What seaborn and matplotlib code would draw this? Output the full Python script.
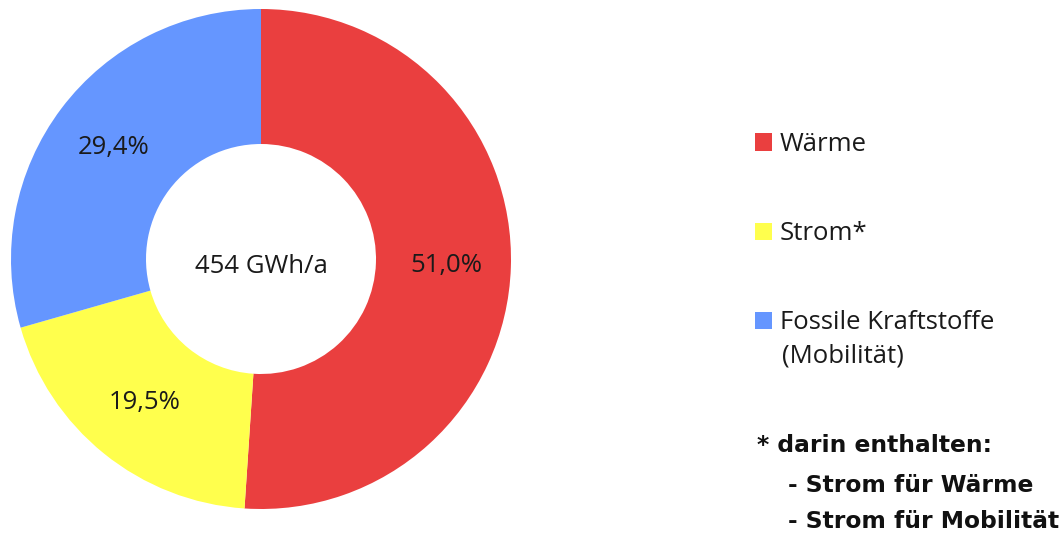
import matplotlib
matplotlib.use("Agg")
import matplotlib.pyplot as plt
import seaborn as sns

# ---- data ----
categories = ["Wärme", "Strom*", "Fossile Kraftstoffe"]
category_note = "(Mobilität)"
values = [51.0, 19.5, 29.4]
colors = ["#EA3F3F", "#FFFF4D", "#6596FF"]
center_label = "454 GWh/a"
footnote_title = "* darin enthalten:"
footnote_lines = ["- Strom für Wärme", "- Strom für Mobilität"]

sns.set_theme(style="white")
plt.rcParams["font.family"] = ["Open Sans", "DejaVu Sans"]

FS = 18.5

fig = plt.figure(figsize=(10.61, 5.33), dpi=100)
ax = fig.add_axes([11 / 1061, 1 - 509 / 533, 500 / 1061, 500 / 533])

val_iter = iter(values)
wedges, texts, autotexts = ax.pie(
    values,
    colors=colors,
    startangle=90,
    counterclock=False,
    radius=1.0,
    wedgeprops=dict(width=0.54, edgecolor="none"),
    autopct=lambda p: f"{next(val_iter):.1f}%".replace(".", ","),
    pctdistance=0.74,
    textprops=dict(fontsize=FS, color="#1a1a1a"),
)
ax.set_xlim(-1, 1)
ax.set_ylim(-1, 1)
ax.set_aspect("equal")
ax.axis("off")
ax.text(0, -0.03, center_label, ha="center", va="center", fontsize=FS, color="#1a1a1a")

leg = fig.legend(
    wedges, categories,
    loc="upper left",
    bbox_to_anchor=(755 / 1061, 1 - 132 / 533),
    frameon=False,
    fontsize=FS,
    handlelength=0.66,
    handleheight=0.66,
    handletextpad=0.3,
    labelspacing=2.5,
    borderpad=0,
    borderaxespad=0,
)
for t in leg.get_texts():
    t.set_color("#1a1a1a")

fig.text(782 / 1061, 1 - 356 / 533, category_note, fontsize=FS, ha="left", va="center",
         color="#1a1a1a")

fig.text(757 / 1061, 1 - 445 / 533, footnote_title, fontsize=16.8, fontweight="bold",
         family=["DejaVu Sans"], ha="left", va="center", color="#111111")
for i, line in enumerate(footnote_lines):
    fig.text(788 / 1061, 1 - (485 + 36 * i) / 533, line, fontsize=16.8, fontweight="bold",
             family=["DejaVu Sans"], ha="left", va="center", color="#111111")

fig.savefig("out.png", dpi=100, facecolor="white")
